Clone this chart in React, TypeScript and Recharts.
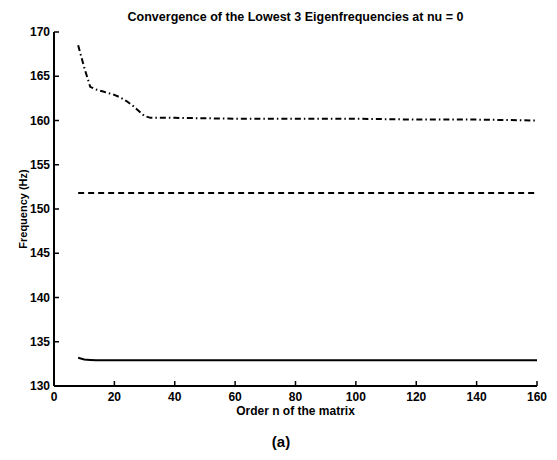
import React from "react";
import { LineChart, Line, XAxis, YAxis } from "recharts";

const nValues = [8, 10, 12, 14, 16, 18, 20, 22, 24, 26, 28, 30, 32, 40, 60, 80, 100, 120, 140, 160];
const firstFreq = [133.2, 133.0, 132.95, 132.9, 132.9, 132.9, 132.9, 132.9, 132.9, 132.9, 132.9, 132.9, 132.9, 132.9, 132.9, 132.9, 132.9, 132.9, 132.9, 132.9];
const secondFreq = [151.8, 151.8, 151.8, 151.8, 151.8, 151.8, 151.8, 151.8, 151.8, 151.8, 151.8, 151.8, 151.8, 151.8, 151.8, 151.8, 151.8, 151.8, 151.8, 151.8];
const thirdFreq = [168.5, 166.0, 163.8, 163.5, 163.3, 163.1, 162.9, 162.6, 162.2, 161.7, 161.1, 160.5, 160.3, 160.3, 160.2, 160.2, 160.2, 160.1, 160.1, 160.0];
const xTicks = [0, 20, 40, 60, 80, 100, 120, 140, 160];
const yTicks = [130, 135, 140, 145, 150, 155, 160, 165, 170];

const titleText = "Convergence of the Lowest 3 Eigenfrequencies at nu = 0";
const xLabel = "Order n of the matrix";
const yLabel = "Frequency (Hz)";
const captionText = "(a)";

const data = nValues.map((n, i) => ({
  n,
  f1: firstFreq[i],
  f2: secondFreq[i],
  f3: thirdFreq[i],
}));

const FONT = "'Liberation Sans', Arial, Helvetica, sans-serif";
const TL = 5;

const BottomTick = (props: any) => {
  const { x, y, payload } = props;
  return (
    <g>
      <line x1={x} y1={y} x2={x} y2={y - TL} stroke="#000" strokeWidth={1.5} />
      <text x={x} y={y + 15} textAnchor="middle" fontFamily={FONT} fontWeight="bold" fontSize={12} fill="#000">
        {payload.value}
      </text>
    </g>
  );
};

const TopTick = (props: any) => {
  const { x, y } = props;
  return <line x1={x} y1={y} x2={x} y2={y + TL} stroke="#000" strokeWidth={1.5} />;
};

const LeftTick = (props: any) => {
  const { x, y, payload } = props;
  return (
    <g>
      <line x1={x} y1={y} x2={x + TL} y2={y} stroke="#000" strokeWidth={1.5} />
      <text x={x - 4} y={y + 4} textAnchor="end" fontFamily={FONT} fontWeight="bold" fontSize={12} fill="#000">
        {payload.value}
      </text>
    </g>
  );
};

const RightTick = (props: any) => {
  const { x, y } = props;
  return <line x1={x} y1={y} x2={x - TL} y2={y} stroke="#000" strokeWidth={1.5} />;
};

export default function App() {
  return (
    <div style={{ position: "absolute", left: 0, top: 0, width: 557, height: 460, background: "#fff" }}>
      <div
        style={{
          position: "absolute",
          left: 54,
          width: 483,
          top: 10,
          textAlign: "center",
          fontFamily: FONT,
          fontWeight: "bold",
          fontSize: 12.5,
          lineHeight: "14px",
        }}
      >
        {titleText}
      </div>
      <LineChart width={557} height={460} data={data} margin={{ top: 32, right: 20, bottom: 54, left: 0 }}>
        <XAxis
          xAxisId="b"
          dataKey="n"
          type="number"
          domain={[0, 160]}
          ticks={xTicks}
          interval={0}
          height={20}
          tickSize={0}
          tickMargin={0}
          tickLine={false}
          tick={<BottomTick />}
          axisLine={{ stroke: "#000", strokeWidth: 2 }}
        />
        <XAxis
          xAxisId="t"
          orientation="top"
          dataKey="n"
          type="number"
          domain={[0, 160]}
          ticks={xTicks}
          interval={0}
          height={0}
          tickSize={0}
          tickMargin={0}
          tickLine={false}
          tick={<TopTick />}
          axisLine={{ stroke: "#000", strokeWidth: 2 }}
        />
        <YAxis
          yAxisId="l"
          type="number"
          domain={[130, 170]}
          ticks={yTicks}
          interval={0}
          width={54}
          tickSize={0}
          tickMargin={0}
          tickLine={false}
          tick={<LeftTick />}
          axisLine={{ stroke: "#000", strokeWidth: 2 }}
        />
        <YAxis
          yAxisId="r"
          orientation="right"
          type="number"
          domain={[130, 170]}
          ticks={yTicks}
          interval={0}
          width={0}
          tickSize={0}
          tickMargin={0}
          tickLine={false}
          tick={<RightTick />}
          axisLine={{ stroke: "#000", strokeWidth: 2 }}
        />
        <Line xAxisId="b" yAxisId="l" type="linear" dataKey="f1" stroke="#000" strokeWidth={2} dot={false} isAnimationActive={false} />
        <Line xAxisId="b" yAxisId="l" type="linear" dataKey="f2" stroke="#000" strokeWidth={2} strokeDasharray="6 4" dot={false} isAnimationActive={false} />
        <Line xAxisId="b" yAxisId="l" type="linear" dataKey="f3" stroke="#000" strokeWidth={2} strokeDasharray="6 3 1.5 3" dot={false} isAnimationActive={false} />
        <Line xAxisId="t" yAxisId="r" type="linear" dataKey="f1" stroke="none" dot={false} isAnimationActive={false} legendType="none" />
      </LineChart>
      <div
        style={{
          position: "absolute",
          left: 54,
          width: 483,
          top: 404,
          textAlign: "center",
          fontFamily: FONT,
          fontWeight: "bold",
          fontSize: 12,
          lineHeight: "14px",
        }}
      >
        {xLabel}
      </div>
      <div
        style={{
          position: "absolute",
          left: 23 - 60,
          top: 209 - 7,
          width: 120,
          textAlign: "center",
          transform: "rotate(-90deg)",
          fontFamily: FONT,
          fontWeight: "bold",
          fontSize: 11,
          lineHeight: "14px",
        }}
      >
        {yLabel}
      </div>
      <div
        style={{
          position: "absolute",
          left: 241,
          width: 80,
          top: 432,
          textAlign: "center",
          fontFamily: FONT,
          fontWeight: "bold",
          fontSize: 15,
          lineHeight: "20px",
        }}
      >
        {captionText}
      </div>
    </div>
  );
}
